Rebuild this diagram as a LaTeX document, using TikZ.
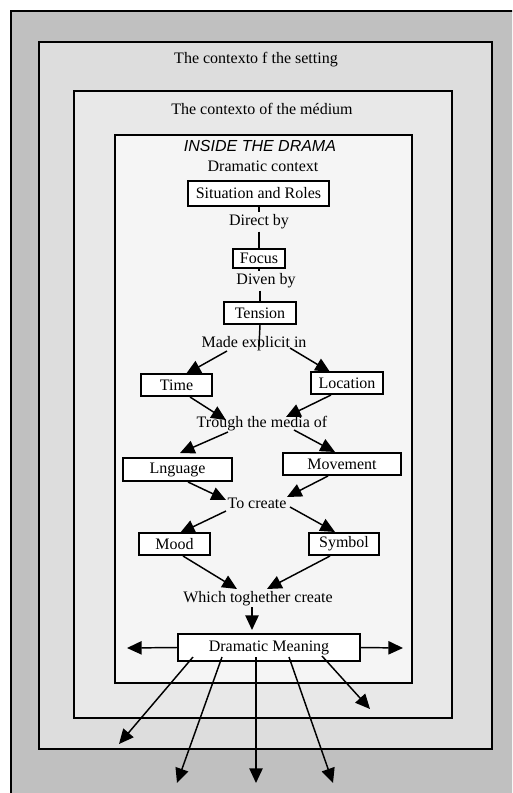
\documentclass[tikz,border=0pt]{standalone}
\usepackage{fontspec}
\setmainfont{Liberation Serif}
\newfontfamily\arialfont{Liberation Sans}
\usetikzlibrary{arrows.meta}
\definecolor{gOuter}{HTML}{C0C0C0}
\definecolor{gSecond}{HTML}{DDDDDD}
\definecolor{gThird}{HTML}{E8E8E8}
\definecolor{gInner}{HTML}{F5F5F5}
\begin{document}
\begin{tikzpicture}[x=0.75pt,y=-0.75pt,
  font=\fontsize{12}{14}\selectfont,
  bx/.style={draw, line width=1.3pt, fill=white, inner sep=0pt, minimum height=16.5pt},
  lbl/.style={inner sep=1.5pt},
  arr/.style={line width=1.1pt, -{Triangle[length=11pt,width=10pt]}},
  plain/.style={line width=1.1pt},
  frame/.style={draw, line width=1.2pt}]
\useasboundingbox (0,0) rectangle (512,793);
\clip (0,0) rectangle (512,793);
\fill[white] (0,0) rectangle (512,793);
% frames
\draw[frame, fill=gOuter] (11,11) rectangle (540,830);
\draw[frame, fill=gSecond] (39,42) rectangle (492,749);
\draw[frame, fill=gThird] (74,91) rectangle (452,718);
\draw[frame, fill=gInner] (115,135) rectangle (412,683);
% titles
\node (setting) at (256,60) {The contexto f the setting};
\node (medium) at (262,109) {The contexto of the médium};
\node (inside) at (260,146) {\arialfont\itshape INSIDE THE DRAMA};
\node (context) at (263,166) {Dramatic context};
% boxes
\node[bx, minimum width=105.75pt, minimum height=18.75pt] (sit) at (258.5,193.5) {Situation and Roles};
\node[bx, minimum width=39pt, minimum height=14.25pt] (focus) at (259,258.5) {Focus};
\node[bx, minimum width=54pt] (tension) at (260,313) {Tension};
\node[bx, minimum width=53.25pt] (time) at (176.5,385) {Time};
\node[bx, minimum width=54pt] (location) at (347,383) {Location};
\node[bx, minimum width=81.75pt, minimum height=17.25pt] (lng) at (177.5,469.5) {Lnguage};
\node[bx, minimum width=88.5pt] (mov) at (342,464) {Movement};
\node[bx, minimum width=53.25pt] (mood) at (174.5,544) {Mood};
\node[bx, minimum width=52.5pt] (symbol) at (344,544) {Symbol};
\node[bx, line width=1.1pt, minimum width=136.5pt, minimum height=20.25pt] (dm) at (269,647.5) {\raisebox{2pt}{Dramatic Meaning}};
% labels
\node[lbl] (direct) at (259,222) {Direct by};
\node[lbl] (diven) at (266,281) {Diven by};
\node[lbl] (made) at (254,344) {Made explicit in};
\node[lbl] (trough) at (262,424) {Trough the media of};
\node[lbl] (tocreate) at (257,503) {To create};
\node[lbl] (which) at (258,599) {Which toghether create};
% free ends
\coordinate (eL) at (127,648);
\coordinate (eR) at (403,648);
\coordinate (e1) at (119,744);
\coordinate (e2) at (177,783);
\coordinate (e3) at (256,783);
\coordinate (e4) at (333,783);
\coordinate (e5) at (370,709);
% vertical links
\draw[plain] (sit.south -| direct) -- (direct.north);
\draw[plain] (direct.south) -- (focus.north -| direct);
\draw[plain] (focus.south) -- (focus.south |- diven.north);
\draw[plain] (tension.north |- diven.south) -- (tension.north);
\draw[plain] (tension.south) -- ([shift={(5,2)}]made.center);
% arrows
\draw[arr] ([shift={(-27,7)}]made.center) -- ([shift={(9.5,-11)}]time.center);
\draw[arr] ([shift={(36,4)}]made.center) -- ([shift={(-17,-11)}]location.center);
\draw[arr] ([shift={(13.5,12)}]time.center) -- ([shift={(-36,-4)}]trough.center);
\draw[arr] ([shift={(-16,12)}]location.center) -- ([shift={(24,-7)}]trough.center);
\draw[arr] ([shift={(-34,8)}]trough.center) -- ([shift={(2.5,-16.5)}]lng.center);
\draw[arr] ([shift={(32,6)}]trough.center) -- ([shift={(-7,-12)}]mov.center);
\draw[arr] ([shift={(10.5,12.5)}]lng.center) -- ([shift={(-31,-3)}]tocreate.center);
\draw[arr] ([shift={(-14,12)}]mov.center) -- ([shift={(30,-6)}]tocreate.center);
\draw[arr] ([shift={(-31,8)}]tocreate.center) -- ([shift={(5.5,-11)}]mood.center);
\draw[arr] ([shift={(33,4)}]tocreate.center) -- ([shift={(-9,-12)}]symbol.center);
\draw[arr] ([shift={(8.5,12)}]mood.center) -- ([shift={(-21,-10)}]which.center);
\draw[arr] ([shift={(-14,12)}]symbol.center) -- ([shift={(9,-10)}]which.center);
\draw[arr] ([shift={(-6,8)}]which.center) -- ([shift={(-17,-17.5)}]dm.center);
\draw[arr] (dm.west) -- (eL);
\draw[arr] (dm.east) -- (eR);
\draw[arr] ([shift={(-76,9.5)}]dm.center) -- (e1);
\draw[arr] ([shift={(-47,9.5)}]dm.center) -- (e2);
\draw[arr] ([shift={(-13,9.5)}]dm.center) -- (e3);
\draw[arr] ([shift={(20,9.5)}]dm.center) -- (e4);
\draw[arr] ([shift={(53,8.5)}]dm.center) -- (e5);
\end{tikzpicture}
\end{document}
